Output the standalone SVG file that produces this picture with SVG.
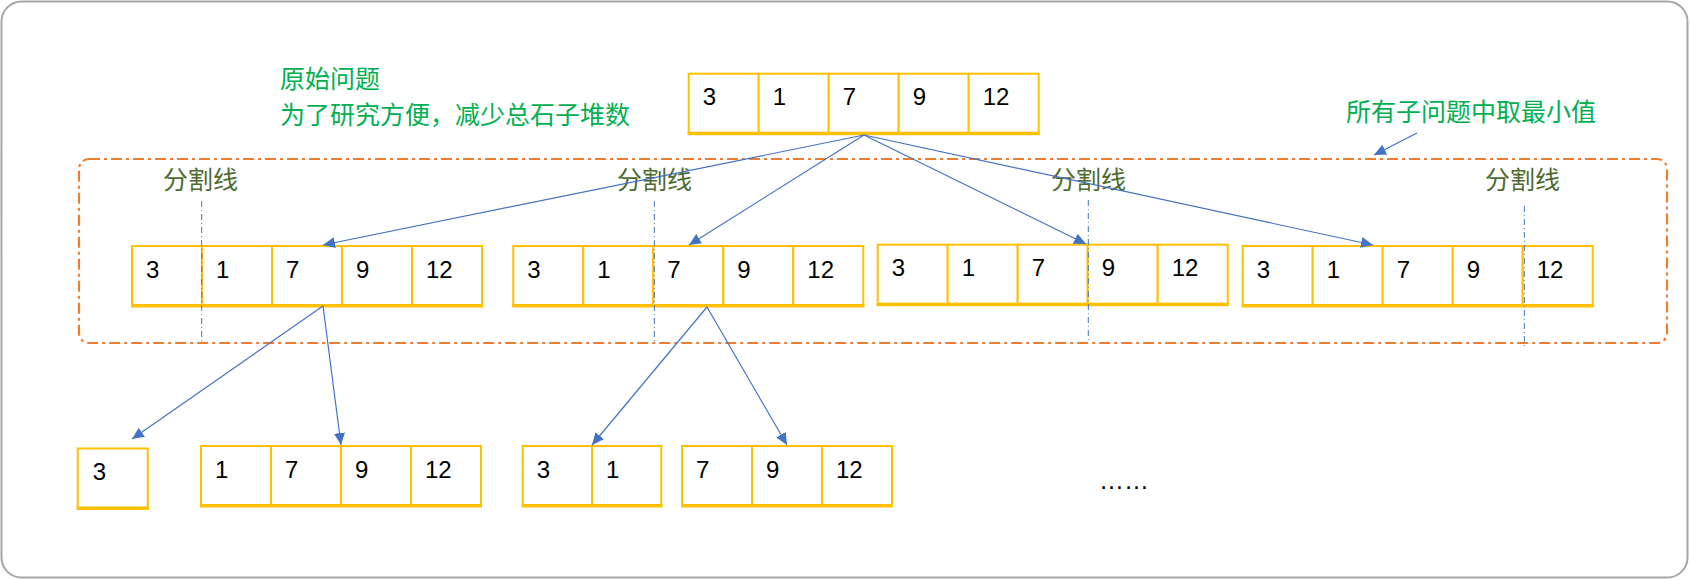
<svg xmlns="http://www.w3.org/2000/svg" width="1690" height="580" viewBox="0 0 1690 580">
<style>
.cell{fill:#fff;stroke:#FFC000;stroke-width:2}
.bar{fill:#FFC000}
.num{font-family:"Liberation Sans",Arial,sans-serif;font-size:24px;fill:#000}
.green{font-family:"Noto Sans CJK SC",sans-serif;font-size:25px;fill:#00B050}
.split{font-family:"Noto Sans CJK SC",sans-serif;font-size:25px;fill:#4E6B2F}
.conn{stroke:#4472C4;stroke-width:1.2;fill:none;marker-end:url(#ah)}
.sline{stroke:#4472C4;stroke-width:1;stroke-dasharray:6 3 1 3;fill:none}
</style>
<defs>
<marker id="ah" markerUnits="userSpaceOnUse" markerWidth="14" markerHeight="12" refX="12" refY="5.5" orient="auto">
<path d="M0,0 L12,5.5 L0,11 z" fill="#4472C4"/>
</marker>
</defs>
<rect x="1.5" y="1.5" width="1686" height="576" rx="20" ry="20" fill="#fff" stroke="#A6A6A6" stroke-width="2"/>
<g id="group-box">
<rect x="79" y="159" width="1588" height="184" rx="10" ry="10" fill="none" stroke="#ED7D31" stroke-width="2.2" stroke-dasharray="11 4 3 4"/>
</g>
<g id="labels">
<text class="green" x="280" y="87.5">原始问题</text>
<text class="green" x="280" y="123.5">为了研究方便，减少总石子堆数</text>
<text class="green" x="1346" y="121">所有子问题中取最小值</text>
<text class="split" x="163" y="189">分割线</text>
<text class="split" x="617" y="189">分割线</text>
<text class="split" x="1051" y="189">分割线</text>
<text class="split" x="1485" y="189">分割线</text>
<text class="num" x="1099" y="489" style="font-size:25px">……</text>
</g>
<g id="top" transform="translate(688.7,73.7)">
<rect class="cell" x="0" y="0" width="70" height="60"/><rect class="cell" x="70" y="0" width="70" height="60"/><rect class="cell" x="140" y="0" width="70" height="60"/><rect class="cell" x="210" y="0" width="70" height="60"/><rect class="cell" x="280" y="0" width="70" height="60"/>
<rect class="bar" x="-1" y="58" width="352" height="3.5"/>
<text class="num" x="14" y="31.5">3</text><text class="num" x="84" y="31.5">1</text><text class="num" x="154" y="31.5">7</text><text class="num" x="224" y="31.5">9</text><text class="num" x="294" y="31.5">12</text>
</g>
<g id="b1" transform="translate(132,246)">
<rect class="cell" x="0" y="0" width="70" height="60"/><rect class="cell" x="70" y="0" width="70" height="60"/><rect class="cell" x="140" y="0" width="70" height="60"/><rect class="cell" x="210" y="0" width="70" height="60"/><rect class="cell" x="280" y="0" width="70" height="60"/>
<rect class="bar" x="-1" y="58" width="352" height="3.5"/>
<text class="num" x="14" y="31.5">3</text><text class="num" x="84" y="31.5">1</text><text class="num" x="154" y="31.5">7</text><text class="num" x="224" y="31.5">9</text><text class="num" x="294" y="31.5">12</text>
</g>
<g id="b2" transform="translate(513.3,246)">
<rect class="cell" x="0" y="0" width="70" height="60"/><rect class="cell" x="70" y="0" width="70" height="60"/><rect class="cell" x="140" y="0" width="70" height="60"/><rect class="cell" x="210" y="0" width="70" height="60"/><rect class="cell" x="280" y="0" width="70" height="60"/>
<rect class="bar" x="-1" y="58" width="352" height="3.5"/>
<text class="num" x="14" y="31.5">3</text><text class="num" x="84" y="31.5">1</text><text class="num" x="154" y="31.5">7</text><text class="num" x="224" y="31.5">9</text><text class="num" x="294" y="31.5">12</text>
</g>
<g id="b3" transform="translate(877.7,244.7)">
<rect class="cell" x="0" y="0" width="70" height="60"/><rect class="cell" x="70" y="0" width="70" height="60"/><rect class="cell" x="140" y="0" width="70" height="60"/><rect class="cell" x="210" y="0" width="70" height="60"/><rect class="cell" x="280" y="0" width="70" height="60"/>
<rect class="bar" x="-1" y="58" width="352" height="3.5"/>
<text class="num" x="14" y="31.5">3</text><text class="num" x="84" y="31.5">1</text><text class="num" x="154" y="31.5">7</text><text class="num" x="224" y="31.5">9</text><text class="num" x="294" y="31.5">12</text>
</g>
<g id="b4" transform="translate(1242.7,246)">
<rect class="cell" x="0" y="0" width="70" height="60"/><rect class="cell" x="70" y="0" width="70" height="60"/><rect class="cell" x="140" y="0" width="70" height="60"/><rect class="cell" x="210" y="0" width="70" height="60"/><rect class="cell" x="280" y="0" width="70" height="60"/>
<rect class="bar" x="-1" y="58" width="352" height="3.5"/>
<text class="num" x="14" y="31.5">3</text><text class="num" x="84" y="31.5">1</text><text class="num" x="154" y="31.5">7</text><text class="num" x="224" y="31.5">9</text><text class="num" x="294" y="31.5">12</text>
</g>
<g id="c1" transform="translate(77.7,448.5)">
<rect class="cell" x="0" y="0" width="70" height="60"/>
<rect class="bar" x="-1" y="58" width="72" height="3.5"/>
<text class="num" x="15" y="31.5">3</text>
</g>
<g id="c2" transform="translate(201,446)">
<rect class="cell" x="0" y="0" width="70" height="60"/><rect class="cell" x="70" y="0" width="70" height="60"/><rect class="cell" x="140" y="0" width="70" height="60"/><rect class="cell" x="210" y="0" width="70" height="60"/>
<rect class="bar" x="-1" y="58" width="282" height="3.5"/>
<text class="num" x="14" y="31.5">1</text><text class="num" x="84" y="31.5">7</text><text class="num" x="154" y="31.5">9</text><text class="num" x="224" y="31.5">12</text>
</g>
<g id="c3" transform="translate(522.7,446)">
<rect class="cell" x="0" y="0" width="69.3" height="60"/><rect class="cell" x="69.3" y="0" width="69.3" height="60"/>
<rect class="bar" x="-1" y="58" width="140.6" height="3.5"/>
<text class="num" x="14" y="31.5">3</text><text class="num" x="83.3" y="31.5">1</text>
</g>
<g id="c4" transform="translate(682,446)">
<rect class="cell" x="0" y="0" width="70" height="60"/><rect class="cell" x="70" y="0" width="70" height="60"/><rect class="cell" x="140" y="0" width="70" height="60"/>
<rect class="bar" x="-1" y="58" width="212" height="3.5"/>
<text class="num" x="14" y="31.5">7</text><text class="num" x="84" y="31.5">9</text><text class="num" x="154" y="31.5">12</text>
</g>
<g id="split-lines">
<line class="sline" x1="201.7" y1="201" x2="201.7" y2="342"/>
<line class="sline" x1="654.3" y1="201" x2="654.3" y2="342"/>
<line class="sline" x1="1088.3" y1="200" x2="1088.3" y2="342"/>
<line class="sline" x1="1524.3" y1="206" x2="1524.3" y2="346"/>
</g>
<g id="connectors">
<line class="conn" x1="864" y1="135" x2="323" y2="245"/>
<line class="conn" x1="864" y1="135" x2="689" y2="245"/>
<line class="conn" x1="864" y1="135" x2="1086" y2="244"/>
<line class="conn" x1="864" y1="135" x2="1373" y2="245"/>
<line class="conn" x1="323" y1="306" x2="132" y2="439"/>
<line class="conn" x1="323" y1="306" x2="341" y2="445"/>
<line class="conn" x1="707" y1="307" x2="592" y2="445"/>
<line class="conn" x1="707" y1="307" x2="787" y2="445"/>
<line class="conn" x1="1417" y1="133" x2="1374" y2="155"/>
</g>
</svg>
